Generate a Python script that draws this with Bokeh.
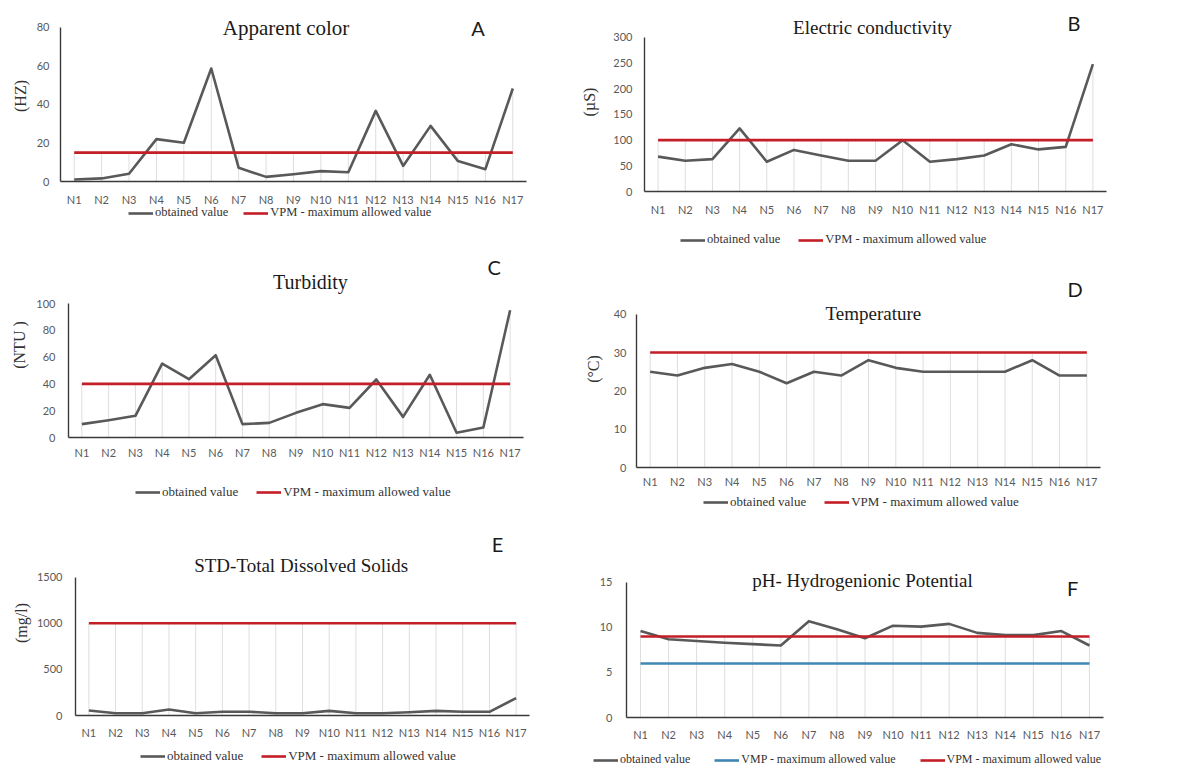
from bokeh.plotting import figure
from bokeh.models import ColumnDataSource, FactorRange, Range1d, Label, Legend, LegendItem
from bokeh.embed import file_html
from bokeh.resources import INLINE

# ---------------- data ----------------
sites = ["N1", "N2", "N3", "N4", "N5", "N6", "N7", "N8", "N9",
         "N10", "N11", "N12", "N13", "N14", "N15", "N16", "N17"]

apparent_color = [1.0, 1.6, 4.0, 22.0, 20.1, 58.7, 7.1, 2.4, 3.8, 5.4, 4.8, 36.7, 8.1, 28.9, 10.6, 6.4, 48.3]
apparent_color_vpm = 15

conductivity = [68, 60, 63, 123, 58, 81, 70, 60, 60, 100, 58, 63, 70, 92, 82, 87, 248]
conductivity_vpm = 100

turbidity = [10.0, 12.9, 16.2, 55.2, 43.5, 61.4, 10.0, 10.9, 18.4, 24.9, 22.1, 43.3, 15.4, 46.8, 3.5, 7.5, 95.0]
turbidity_vpm = 40

temperature = [25, 24, 26, 27, 25, 22, 25, 24, 28, 26, 25, 25, 25, 25, 28, 24, 24]
temperature_vpm = 30

tds = [54, 25, 25, 65, 25, 40, 40, 25, 25, 50, 25, 25, 36, 50, 40, 40, 188]
tds_vpm = 1000

ph = [9.6, 8.7, 8.5, 8.3, 8.15, 8.0, 10.7, 9.8, 8.8, 10.2, 10.1, 10.4, 9.4, 9.15, 9.15, 9.6, 8.0]
ph_vmp = 6
ph_vpm = 9

titles = ["Apparent color", "Electric conductivity", "Turbidity", "Temperature",
          "STD-Total Dissolved Solids", "pH- Hydrogenionic Potential"]
letters = ["A", "B", "C", "D", "E", "F"]
ylabels = ["(HZ)", "(\u00b5S)", "(NTU )", "(\u00b0C)", "(mg/l)", ""]
obtained_label = "obtained value"
vpm_label = "VPM - maximum allowed value"
vmp_label = "VMP - maximum allowed value"

# ---------------- style ----------------
GRAY = "#595959"
RED = "#c41e26"
BLUE = "#3f86b2"
DROP = "#dedede"
AXIS = "#3a3a3a"
SERIF = "Liberation Serif"
SANS = "Lato"


def place(p, left, top):
    p.styles = {"position": "absolute", "left": f"{left}px", "top": f"{top}px"}


def panel(title, letter, ylabel, values, limits, ticks, pos, w, h, mb, y_end,
          title_xy, title_size, letter_xy, xstand, ystand, ylab_stand):
    p = figure(width=w, height=h, x_range=FactorRange(factors=sites),
               y_range=Range1d(0, y_end), output_backend="svg",
               toolbar_location=None, min_border_left=mb[0], min_border_right=mb[1],
               min_border_top=mb[2], min_border_bottom=mb[3])
    place(p, *pos)
    p.x_range.range_padding = 0
    p.outline_line_color = None
    p.xgrid.grid_line_color = None
    p.ygrid.grid_line_color = None

    # drop lines from the highest value at each site down to the axis
    tops = [max([v] + [lv for (_, lv, _) in limits]) for v in values]
    src = ColumnDataSource(dict(x=sites, y=values, top=tops, zero=[0] * len(sites)))
    p.segment(x0="x", y0="zero", x1="x", y1="top", source=src, line_color=DROP, line_width=1)
    p.line("x", "y", source=src, line_color=GRAY, line_width=2.6, line_join="round")
    for lab, lv, col in limits:
        p.line(sites, [lv] * len(sites), line_color=col, line_width=2.6)

    p.yaxis.ticker = ticks
    p.yaxis.bounds = (0, ticks[-1])
    for ax in (p.xaxis, p.yaxis):
        ax.axis_line_color = AXIS
        ax.axis_line_width = 1.4
        ax.major_tick_line_color = None
        ax.minor_tick_line_color = None
        ax.major_tick_out = 0
        ax.major_tick_in = 0
        ax.minor_tick_out = 0
        ax.minor_tick_in = 0
        ax.major_label_text_font = SANS
        ax.major_label_text_font_size = "11px"
        ax.major_label_text_color = GRAY
    p.xaxis.major_label_standoff = xstand
    p.yaxis.major_label_standoff = ystand
    if ylabel:
        p.yaxis.axis_label = ylabel
        p.yaxis.axis_label_text_font = SERIF
        p.yaxis.axis_label_text_font_style = "normal"
        p.yaxis.axis_label_text_font_size = "16px"
        p.yaxis.axis_label_text_color = "#333333"
        p.yaxis.axis_label_standoff = ylab_stand

    p.add_layout(Label(x=title_xy[0], y=title_xy[1], text=title, text_font=SERIF,
                       text_font_size=f"{title_size}px", text_color="#1a1a1a",
                       text_align="center", text_baseline="middle"))
    p.add_layout(Label(x=letter_xy[0], y=letter_xy[1], text=letter, text_font=SANS,
                       text_font_size="20px", text_color="#1a1a1a",
                       text_align="center", text_baseline="middle"))
    return p


def legend_box(entries, pos, w, spacing, font_size):
    q = figure(width=w, height=16, x_range=Range1d(0, 1), y_range=Range1d(0, 1),
               x_axis_location=None, y_axis_location=None, output_backend="svg",
               toolbar_location=None, min_border=0)
    place(q, *pos)
    q.outline_line_color = None
    q.background_fill_alpha = 0
    q.border_fill_alpha = 0
    q.grid.visible = False
    items = []
    for lab, col in entries:
        # legend-only renderer: one undefined point, nothing drawn in the frame
        src = ColumnDataSource(dict(x=[float("nan")], y=[float("nan")]))
        r = q.line("x", "y", source=src, line_color=col, line_width=2.6)
        items.append(LegendItem(label=lab, renderers=[r]))
    leg = Legend(items=items, orientation="horizontal", location=(0, 1),
                 glyph_width=25, glyph_height=14, label_height=14, label_standoff=2,
                 spacing=spacing, padding=0, margin=0, border_line_color=None,
                 background_fill_alpha=0, label_text_font=SERIF,
                 label_text_font_size=font_size, label_text_color="#333333")
    q.add_layout(leg, "center")
    return q


pA = panel(titles[0], letters[0], ylabels[0], apparent_color,
           [(vpm_label, apparent_color_vpm, RED)], [0, 20, 40, 60, 80],
           (8, 8), 570, 242, (51, 52, 2, 69), 88.83, (8.23, 79.5), 21, (15.23, 79.5),
           11, 11, 5)
pB = panel(titles[1], letters[1], ylabels[1], conductivity,
           [(vpm_label, conductivity_vpm, RED)], [0, 50, 100, 150, 200, 250, 300],
           (578, 8), 591, 250, (62, 63, 4, 67), 348.7, (8.39, 319.5), 19, (15.8, 329),
           11, 12, 12)
pC = panel(titles[2], letters[2], ylabels[2], turbidity,
           [(vpm_label, turbidity_vpm, RED)], [0, 20, 40, 60, 80, 100],
           (8, 250), 570, 255, (60, 55, 2, 68), 138.1, (9.04, 115.9), 20, (15.9, 127),
           8, 13, 5)
pD = panel(titles[3], letters[3], ylabels[3], temperature,
           [(vpm_label, temperature_vpm, RED)], [0, 10, 20, 30, 40],
           (578, 258), 591, 257, (58, 69, 12, 48), 51.4, (8.68, 40.1), 19, (16.07, 46.6),
           7, 10, 9)
pE = panel(titles[4], letters[4], ylabels[4], tds,
           [(vpm_label, tds_vpm, RED)], [0, 500, 1000, 1500],
           (8, 505), 570, 256, (67, 49, 25, 46), 2006, (8.45, 1627), 19, (15.8, 1865),
           10, 13, 4)
pF = panel(titles[5], letters[5], ylabels[5], ph,
           [(vmp_label, ph_vmp, BLUE), (vpm_label, ph_vpm, RED)], [0, 5, 10, 15],
           (578, 515), 591, 246, (48, 66, 55, 44), 16.33, (8.41, 15.2), 19, (15.9, 14.4),
           10, 14, 0)

two = [(obtained_label, GRAY), (vpm_label, RED)]
three = [(obtained_label, GRAY), (vmp_label, BLUE), (vpm_label, RED)]
lA = legend_box(two, (128, 205), 360, 15, "12.5px")
lB = legend_box(two, (680, 232), 360, 18, "12.5px")
lC = legend_box(two, (135, 485), 360, 18, "13px")
lD = legend_box(two, (703, 495), 360, 18, "13px")
lE = legend_box(two, (140, 749), 360, 18, "13px")
lF = legend_box(three, (593, 752), 560, 24, "12px")

open("out.html", "w").write(file_html([pA, pB, pC, pD, pE, pF, lA, lB, lC, lD, lE, lF], INLINE))
